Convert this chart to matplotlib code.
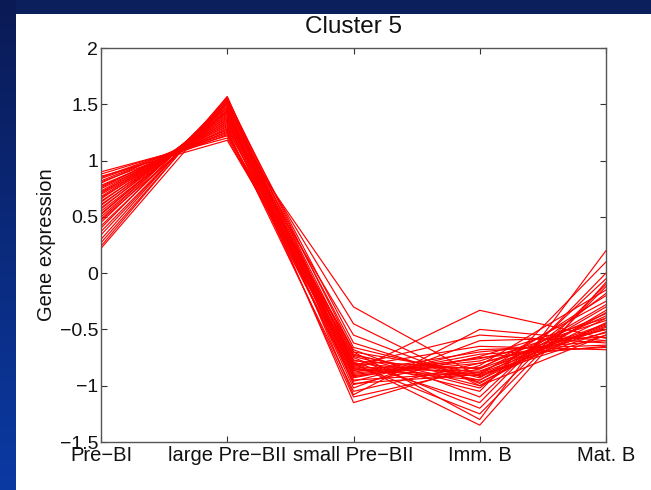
import numpy as np
import matplotlib
matplotlib.use("Agg")
import matplotlib.pyplot as plt
from matplotlib.patches import Rectangle
from matplotlib.colors import LinearSegmentedColormap

stages = ["Pre\u2212BI", "large Pre\u2212BII", "small Pre\u2212BII", "Imm. B", "Mat. B"]
y_ticks = [-1.5, -1, -0.5, 0, 0.5, 1, 1.5, 2]
y_tick_labels = ["\u22121.5", "\u22121", "\u22120.5", "0", "0.5", "1", "1.5", "2"]

pre_bi = [0.90, 0.88, 0.86, 0.85, 0.84, 0.82, 0.81, 0.80, 0.78, 0.77,
          0.76, 0.75, 0.73, 0.72, 0.71, 0.70, 0.68, 0.67, 0.66, 0.64,
          0.63, 0.61, 0.60, 0.58, 0.57, 0.55, 0.53, 0.52, 0.50, 0.48,
          0.47, 0.45, 0.42, 0.40, 0.37, 0.34, 0.30, 0.27, 0.24, 0.22]
large_pre_bii = [1.20, 1.22, 1.18, 1.25, 1.24, 1.27, 1.23, 1.30, 1.26, 1.28,
                 1.32, 1.29, 1.34, 1.31, 1.36, 1.33, 1.38, 1.35, 1.40, 1.37,
                 1.42, 1.39, 1.44, 1.41, 1.46, 1.43, 1.45, 1.48, 1.47, 1.50,
                 1.44, 1.52, 1.49, 1.54, 1.51, 1.53, 1.56, 1.55, 1.57, 1.52]
small_pre_bii = [-0.78, -0.85, -0.72, -0.92, -0.80, -1.05, -0.68, -0.88, -0.95, -0.75,
                 -0.30, -0.83, -1.10, -0.70, -0.90, -0.55, -0.82, -0.98, -0.77, -0.87,
                 -1.15, -0.73, -0.93, -0.45, -0.80, -1.02, -0.85, -0.66, -0.89, -0.79,
                 -0.96, -0.62, -0.84, -1.08, -0.74, -0.91, -0.81, -0.70, -0.99, -0.86]
imm_b = [-0.85, -0.95, -1.00, -0.75, -0.90, -0.80, -1.10, -0.70, -0.88, -1.20,
         -0.92, -0.65, -0.85, -1.30, -0.78, -0.98, -0.55, -0.90, -1.05, -0.33,
         -0.82, -0.95, -0.72, -1.00, -1.35, -0.60, -0.87, -0.93, -0.76, -1.15,
         -0.68, -0.97, -0.84, -0.50, -1.02, -0.80, -1.25, -0.89, -0.74, -0.91]
mat_b = [-0.45, -0.30, -0.55, -0.65, -0.20, -0.50, -0.05, -0.60, -0.38, -0.10,
         -0.48, -0.68, -0.25, 0.20, -0.42, -0.35, -0.62, -0.52, 0.10, -0.58,
         -0.15, -0.40, -0.66, -0.33, -0.08, -0.57, -0.46, -0.28, -0.50, 0.00,
         -0.64, -0.44, -0.36, -0.60, -0.18, -0.53, -0.12, -0.47, -0.40, -0.55]

plt.rcParams['font.family'] = ['Liberation Sans', 'DejaVu Sans']

W, H = 651, 490
fig = plt.figure(figsize=(W / 100, H / 100), dpi=100)
fig.patch.set_facecolor('#0b1f5c')

# slide background: left gradient strip + white panel
bg = fig.add_axes([0, 0, 1, 1], zorder=-10)
grad = np.linspace(0, 1, 256).reshape(-1, 1)
cmap = LinearSegmentedColormap.from_list('bl', ['#0a1a55', '#0b3aa3'])
bg.imshow(grad, aspect='auto', cmap=cmap, extent=[0, 16 / W, 0, 1], origin='upper')
bg.add_patch(Rectangle((16 / W, 0), 1 - 16 / W, 1 - 14 / H,
                       facecolor='white', edgecolor='none'))
bg.set_xlim(0, 1)
bg.set_ylim(0, 1)
bg.set_axis_off()

ax = fig.add_axes([101 / W, 1 - 442 / H, 505 / W, 394 / H], zorder=5)
data = np.array([pre_bi, large_pre_bii, small_pre_bii, imm_b, mat_b])
x = np.arange(len(stages))
for i in range(data.shape[1]):
    ax.plot(x, data[:, i], color='#ff0000', lw=0.85)

ax.set_xlim(0, len(stages) - 1)
ax.set_ylim(-1.5, 2)
ax.set_xticks(x)
ax.set_xticklabels(stages, fontsize=14.5)
ax.set_yticks(y_ticks)
ax.set_yticklabels(y_tick_labels, fontsize=14)
ax.tick_params(direction='in', length=4, width=0.8, color='#333333',
               top=True, right=True, pad=2, labelcolor='#111111')
ax.tick_params(axis='x', pad=3)
for s in ax.spines.values():
    s.set_color('#555555')
    s.set_linewidth(1.0)
ax.set_ylabel('Gene expression', fontsize=14.5, color='#111111', labelpad=3)
ax.set_title('Cluster 5', fontsize=17.5, color='#111111', pad=11)

fig.savefig('out.png', dpi=100, facecolor=fig.get_facecolor())
